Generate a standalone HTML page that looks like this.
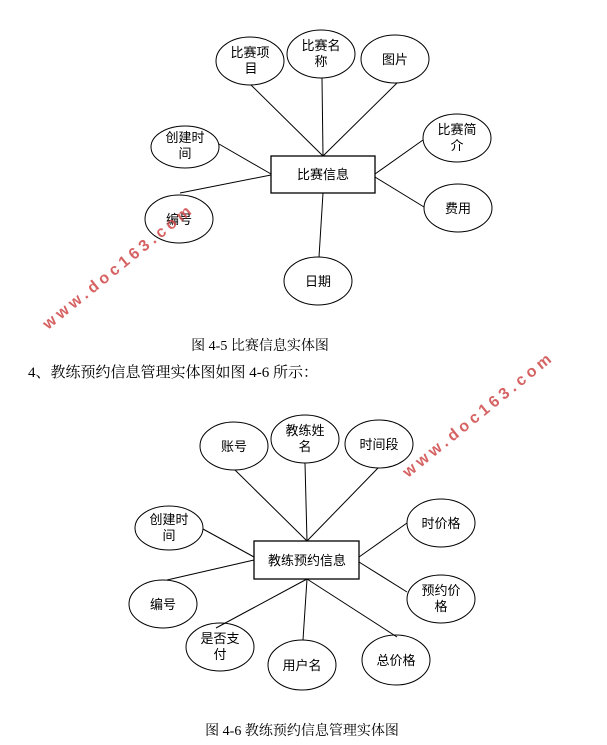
<!DOCTYPE html>
<html><head><meta charset="utf-8"><style>
html,body{margin:0;padding:0;background:#fff;width:607px;height:745px;overflow:hidden}
svg{display:block}
text{font-family:"Liberation Sans","Noto Sans CJK SC",sans-serif;fill:#000}
.l{font-size:13px}
.w{fill:#d04848;font-size:16px;letter-spacing:4px;font-weight:bold;opacity:.85}
</style></head><body>
<svg width="607" height="745" viewBox="0 0 607 745" xmlns="http://www.w3.org/2000/svg">
<g stroke="#000" stroke-width="1" fill="none">
<!-- top lines -->
<line x1="251" y1="85" x2="323" y2="156"/>
<line x1="322" y1="78" x2="323" y2="156"/>
<line x1="397" y1="83" x2="323" y2="156"/>
<line x1="219" y1="144" x2="271" y2="174"/>
<line x1="180" y1="193" x2="271" y2="175"/>
<line x1="423" y1="140" x2="375" y2="174"/>
<line x1="424" y1="207" x2="375" y2="177"/>
<line x1="319" y1="257" x2="323" y2="193"/>
<!-- top ellipses -->
<ellipse cx="250" cy="61" rx="34" ry="24"/>
<ellipse cx="321" cy="54" rx="34" ry="24"/>
<ellipse cx="395" cy="59" rx="34" ry="24"/>
<ellipse cx="185" cy="147" rx="34" ry="21"/>
<ellipse cx="457" cy="138" rx="34" ry="24"/>
<ellipse cx="458" cy="208" rx="34" ry="24"/>
<ellipse cx="179" cy="219" rx="34" ry="24"/>
<ellipse cx="318" cy="281" rx="34" ry="24"/>
<rect x="271" y="156" width="104" height="37" stroke-width="1.3"/>
<!-- bottom lines -->
<line x1="235" y1="470" x2="307" y2="541"/>
<line x1="305" y1="463" x2="307" y2="541"/>
<line x1="378" y1="468" x2="307" y2="541"/>
<line x1="203" y1="529" x2="254" y2="557"/>
<line x1="167" y1="580" x2="254" y2="560"/>
<line x1="407" y1="523" x2="359" y2="557"/>
<line x1="407" y1="592" x2="359" y2="562"/>
<line x1="216" y1="628" x2="307" y2="579"/>
<line x1="303" y1="640" x2="307" y2="579"/>
<line x1="397" y1="637" x2="307" y2="579"/>
<!-- bottom ellipses -->
<ellipse cx="234" cy="446" rx="34" ry="24"/>
<ellipse cx="305" cy="439" rx="34" ry="24"/>
<ellipse cx="379" cy="444" rx="34" ry="24"/>
<ellipse cx="169" cy="528" rx="34" ry="22"/>
<ellipse cx="441" cy="523" rx="34" ry="24"/>
<ellipse cx="441" cy="599" rx="34" ry="24"/>
<ellipse cx="163" cy="604" rx="34" ry="24"/>
<ellipse cx="220" cy="647" rx="34" ry="24"/>
<ellipse cx="302" cy="665" rx="34" ry="25"/>
<ellipse cx="396" cy="660" rx="34" ry="25"/>
<rect x="254" y="541" width="105" height="38" stroke-width="1.3"/>
</g>
<g class="l" text-anchor="middle">
<text x="250" y="57">比赛项</text><text x="251" y="73">目</text>
<text x="321" y="50">比赛名</text><text x="321" y="66">称</text>
<text x="395" y="64">图片</text>
<text x="185" y="142">创建时</text><text x="185" y="158">间</text>
<text x="457" y="134">比赛简</text><text x="457" y="150">介</text>
<text x="458" y="213">费用</text>
<text x="179" y="224">编号</text>
<text x="318" y="286">日期</text>
<text x="323" y="179">比赛信息</text>
<text x="234" y="451">账号</text>
<text x="305" y="435">教练姓</text><text x="305" y="451">名</text>
<text x="379" y="449">时间段</text>
<text x="169" y="524">创建时</text><text x="169" y="540">间</text>
<text x="441" y="528">时价格</text>
<text x="441" y="595">预约价</text><text x="441" y="611">格</text>
<text x="163" y="609">编号</text>
<text x="220" y="643">是否支</text><text x="220" y="659">付</text>
<text x="302" y="670">用户名</text>
<text x="396" y="665">总价格</text>
<text x="307" y="565">教练预约信息</text>
</g>
<text x="260" y="350" text-anchor="middle" style="font-size:14px;font-family:'Liberation Serif','Noto Serif CJK SC',serif">图 4-5 比赛信息实体图</text>
<text x="28" y="377" style="font-size:15px;font-family:'Liberation Serif','Noto Serif CJK SC',serif">4、教练预约信息管理实体图如图 4-6 所示：</text>
<text x="302" y="735" text-anchor="middle" style="font-size:14px;font-family:'Liberation Serif','Noto Serif CJK SC',serif">图 4-6 教练预约信息管理实体图</text>
<text class="w" transform="translate(48,330) rotate(-39)">www.doc163.com</text>
<text class="w" transform="translate(408,478) rotate(-39)">www.doc163.com</text>
</svg>
</body></html>
